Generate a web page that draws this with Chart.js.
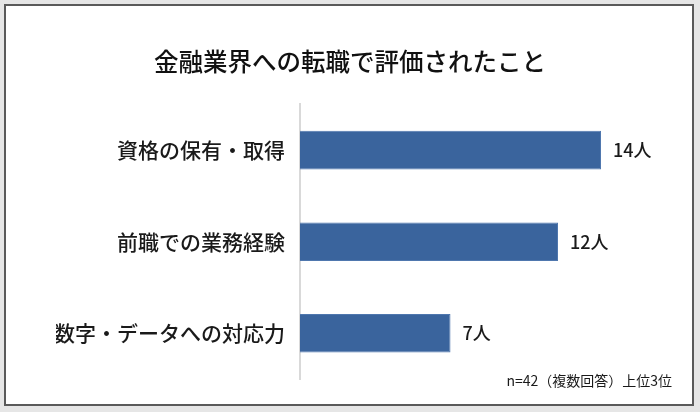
<!DOCTYPE html>
<html lang="ja">
<head>
<meta charset="utf-8">
<title>金融業界への転職で評価されたこと</title>
<script src="https://cdn.jsdelivr.net/npm/chart.js@4/dist/chart.umd.min.js"></script>
<style>
  html, body { margin: 0; padding: 0; background: #e6e6e6; }
  .frame {
    position: absolute; left: 4px; top: 4px;
    width: 686px; height: 398px;
    border: 2px solid #5a5a5a; background: #fff;
  }
  #chart { position: absolute; left: 0; top: 0; }
</style>
</head>
<body>
<div class="frame"></div>
<canvas id="chart" width="700" height="412"></canvas>
<script>
const titleText = '金融業界への転職で評価されたこと';
const categories = ['資格の保有・取得', '前職での業務経験', '数字・データへの対応力'];
const counts = [14, 12, 7];
const unit = '人';
const note = 'n=42（複数回答）上位3位';

const FONT = "'Noto Sans CJK JP', 'Noto Sans', sans-serif";

// value labels at the end of each bar
const valueLabels = {
    id: 'valueLabels',
    afterDatasetsDraw(chart) {
        const ctx = chart.ctx;
        const meta = chart.getDatasetMeta(0);
        ctx.save();
        ctx.font = '500 18px ' + FONT;
        ctx.fillStyle = '#1a1a1a';
        ctx.textAlign = 'left';
        ctx.textBaseline = 'middle';
        meta.data.forEach((bar, i) => {
            ctx.fillText(counts[i] + unit, bar.x + 12, bar.y);
        });
        ctx.restore();
    }
};

// footnote bottom right
const footNote = {
    id: 'footNote',
    afterDraw(chart) {
        const ctx = chart.ctx;
        ctx.save();
        ctx.font = '14px ' + FONT;
        ctx.fillStyle = '#1a1a1a';
        ctx.textAlign = 'right';
        ctx.textBaseline = 'middle';
        ctx.fillText(note, 672, 381);
        ctx.restore();
    }
};

new Chart(document.getElementById('chart'), {
    type: 'bar',
    data: {
        labels: categories,
        datasets: [{
            data: counts,
            backgroundColor: '#3a649d',
            borderColor: '#4f77ae',
            borderWidth: 1,
            categoryPercentage: 1,
            barPercentage: 0.422
        }]
    },
    options: {
        indexAxis: 'y',
        responsive: false,
        animation: false,
        devicePixelRatio: 1,
        layout: { padding: { left: 56, right: 56, top: 0, bottom: 33 } },
        plugins: {
            legend: { display: false },
            tooltip: { enabled: false },
            title: {
                display: true,
                text: titleText,
                color: '#111',
                font: { family: FONT, size: 24.5, weight: '500' },
                padding: { top: 47, bottom: 28 }
            }
        },
        scales: {
            x: { display: false, min: 0, max: 16 },
            y: {
                afterFit(scale) { scale.width = 244; },
                grid: { display: false, drawTicks: false },
                border: { display: true, color: '#d9d9d9', width: 2 },
                ticks: {
                    padding: 15,
                    color: '#1a1a1a',
                    font: { family: FONT, size: 21, weight: '500' }
                }
            }
        }
    },
    plugins: [valueLabels, footNote]
});
</script>
</body>
</html>
